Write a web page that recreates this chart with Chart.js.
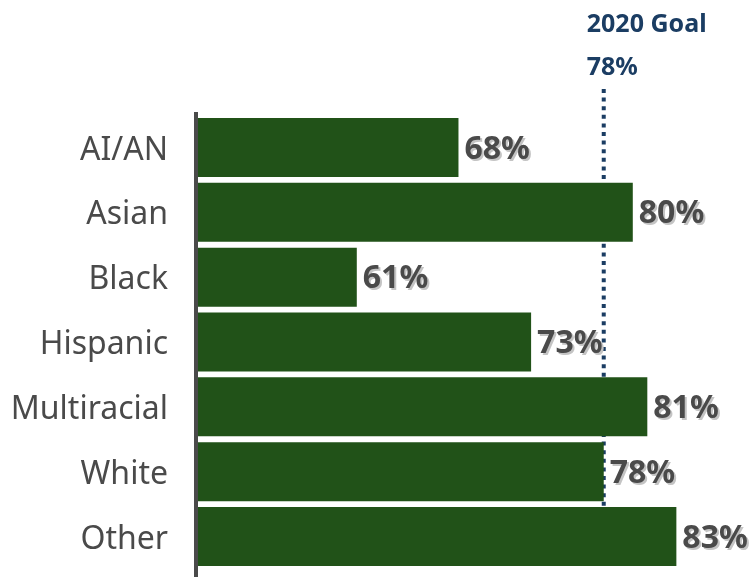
<!DOCTYPE html>
<html>
<head>
<meta charset="utf-8">
<script src="https://cdn.jsdelivr.net/npm/chart.js@4"></script>
<style>
  html, body { margin: 0; padding: 0; background: #fff; }
  #wrap { width: 755px; height: 577px; position: relative; }
</style>
</head>
<body>
<div id="wrap"><canvas id="rateChart"></canvas></div>
<script>
const groups = ["AI/AN", "Asian", "Black", "Hispanic", "Multiracial", "White", "Other"];
const rates = [68, 80, 61, 73, 81, 78, 83];
const goalRate = 78;
const goalTitle = "2020 Goal";

const barGreen = "#215218";
const navy = "#1b3d63";

// dotted goal marker, drawn behind the bars
const goalLine = {
    id: "goalLine",
    beforeDatasetsDraw(chart) {
        const ctx = chart.ctx;
        const x = chart.scales.x.getPixelForValue(goalRate);
        ctx.save();
        ctx.strokeStyle = navy;
        ctx.lineWidth = 4;
        ctx.setLineDash([4, 4.6]);
        ctx.beginPath();
        ctx.moveTo(x, 89);
        ctx.lineTo(x, 508);
        ctx.stroke();
        ctx.restore();
    },
    afterDraw(chart) {
        const ctx = chart.ctx;
        const x = chart.scales.x.getPixelForValue(goalRate);
        ctx.save();
        ctx.fillStyle = navy;
        ctx.font = "bold 25px 'Noto Sans'";
        ctx.textAlign = "left";
        ctx.textBaseline = "middle";
        ctx.fillText(goalTitle, x - 17, 25);
        ctx.fillText(goalRate + "%", x - 17, 68);
        ctx.restore();
    }
};

// left axis rule and value labels
const barLabels = {
    id: "barLabels",
    afterDatasetsDraw(chart) {
        const ctx = chart.ctx;
        ctx.save();
        ctx.fillStyle = "#4a4a4a";
        ctx.fillRect(chart.chartArea.left - 3, 112, 4, 577 - 112);

        const meta = chart.getDatasetMeta(0);
        ctx.font = "bold 32px 'Noto Sans'";
        ctx.textAlign = "left";
        ctx.textBaseline = "middle";
        meta.data.forEach((bar, i) => {
            const txt = rates[i] + "%";
            ctx.fillStyle = "#c4c4c4";
            ctx.fillText(txt, bar.x + 8, bar.y + 4);
            ctx.fillStyle = "#4a4a4a";
            ctx.fillText(txt, bar.x + 6, bar.y + 2);
        });
        ctx.restore();
    }
};

const ctx = document.getElementById("rateChart").getContext("2d");
new Chart(ctx, {
    type: "bar",
    data: {
        labels: groups,
        datasets: [{
            data: rates,
            backgroundColor: barGreen,
            categoryPercentage: 1,
            barPercentage: 0.91
        }]
    },
    options: {
        indexAxis: "y",
        responsive: true,
        maintainAspectRatio: false,
        animation: false,
        layout: { padding: { top: 115, bottom: 8, right: 6, left: 0 } },
        plugins: {
            legend: { display: false },
            tooltip: { enabled: false }
        },
        scales: {
            x: {
                display: false,
                min: 50,
                max: 88
            },
            y: {
                afterFit(scale) {
                    scale.width = 197;
                    // labels sit beside the bars, no extra room above/below
                    scale.paddingTop = 0;
                    scale.paddingBottom = 0;
                },
                grid: { display: false, drawTicks: false },
                border: { display: false },
                ticks: {
                    padding: 29,
                    labelOffset: 3,
                    color: "#4a4a4a",
                    font: { family: "'Noto Sans'", size: 32 }
                }
            }
        }
    },
    plugins: [goalLine, barLabels]
});
</script>
</body>
</html>
